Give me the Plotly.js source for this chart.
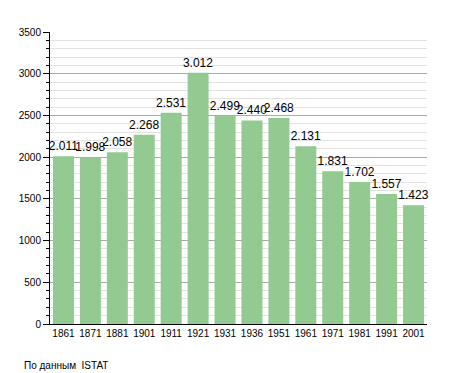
<!DOCTYPE html>
<html><head><meta charset="utf-8">
<script src="https://cdn.plot.ly/plotly-3.0.1.min.js"></script>
<style>html,body{margin:0;padding:0;background:#fff}#c{width:455px;height:373px}</style>
</head><body><div id="c"></div>
<script>
var years = ["1861","1871","1881","1901","1911","1921","1931","1936","1951","1961","1971","1981","1991","2001"];
var population = [2011,1998,2058,2268,2531,3012,2499,2440,2468,2131,1831,1702,1557,1423];
var labels = ["2.011","1.998","2.058","2.268","2.531","3.012","2.499","2.440","2.468","2.131","1.831","1.702","1.557","1.423"];
var yTicks = [0,500,1000,1500,2000,2500,3000,3500];

Plotly.newPlot('c', [{
  type:'bar', x: years, y: population, text: labels,
  textposition:'outside', cliponaxis:false, constraintext:'none',
  textfont:{family:'Liberation Sans, Arial, sans-serif', size:12, color:'#000'},
  marker:{color:'rgb(146,202,146)', line:{width:0}},
  width:0.78, hoverinfo:'none'
}], {
  width:455, height:373,
  margin:{l:50, r:28, t:32, b:49, pad:0},
  paper_bgcolor:'#fff', plot_bgcolor:'#fff',
  showlegend:false,
  font:{family:'Liberation Sans, Arial, sans-serif', size:10, color:'#000'},
  xaxis:{type:'category', showline:true, linecolor:'#000', linewidth:1, ticks:'', showgrid:false,
         tickfont:{size:10}, fixedrange:true},
  yaxis:{range:[0,3500], tickvals:yTicks, ticktext:yTicks.map(String), showline:true, linecolor:'#000', linewidth:1,
         ticks:'outside', ticklen:6, tickcolor:'#000', gridcolor:'#aaaaaa', gridwidth:1, zeroline:false,
         minor:{dtick:100, tick0:0, showgrid:true, gridcolor:'#e2e2e2', ticks:'outside', ticklen:3, tickcolor:'#000'},
         tickfont:{size:10}, fixedrange:true},
  annotations:[{text:'По данным  ISTAT', xref:'paper', yref:'paper', x:-0.075, y:-0.117, xanchor:'left', yanchor:'top',
    showarrow:false, font:{size:10, color:'#000'}}]
}, {staticPlot:true});
</script></body></html>
